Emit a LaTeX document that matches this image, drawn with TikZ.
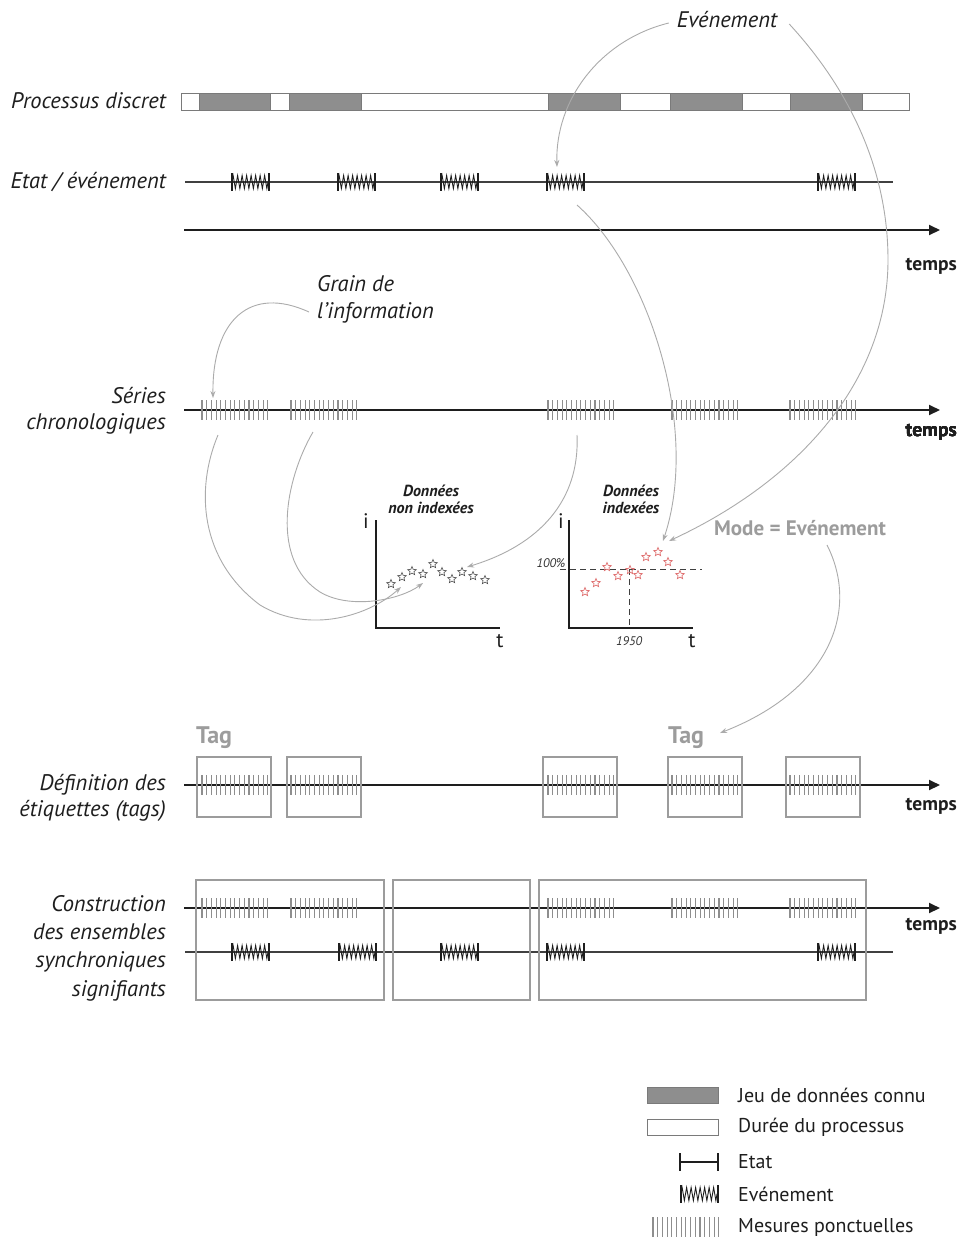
\documentclass[tikz,border=0pt]{standalone}
\usepackage{fontspec}
\setmainfont{PT Sans}
\usetikzlibrary{arrows.meta,shapes.geometric,decorations.pathmorphing}

\definecolor{tagc}{HTML}{9C9C9C}
\definecolor{curvec}{HTML}{ABABAB}
\definecolor{barfill}{HTML}{8E8E8E}
\definecolor{barline}{HTML}{7A7A7A}
\definecolor{tickc}{HTML}{8E8E8E}
\definecolor{starred}{HTML}{E07272}
\definecolor{ink}{HTML}{1E1E1E}

% event marker: two end bars with a spring between them
\newcommand\evmark[2]{%
  \draw[ink,line width=1.3pt] (#1,#2-9) -- (#1,#2+9) (#1+37,#2-9) -- (#1+37,#2+9);
  \draw[ink,line width=0.9pt,decorate,decoration={zigzag,segment length=4.5pt,amplitude=6.5pt}]
    (#1,#2) -- (#1+37,#2);}
% cluster of point measurements
\newcommand\measures[2]{%
  \foreach \k in {0,...,14} \draw[tickc,line width=1.1pt] (#1+\k*4.7,#2-10) -- ++(0,20);}

\begin{document}
\begin{tikzpicture}[x=1pt,y=-1pt,
  axis/.style={ink,line width=2pt,-{Triangle[length=11pt,width=10pt]}},
  stateline/.style={black!75,line width=2pt},
  curve/.style={draw=curvec,line width=0.9pt,-{Stealth[length=7pt,width=5pt]}},
  tagbox/.style={draw=tagc,line width=2.6pt},
  rowlabel/.style={font=\fontsize{22.5}{26}\selectfont\itshape,text=ink,align=right,anchor=east,inner sep=0pt},
  tempslbl/.style={font=\fontsize{19.5}{22}\selectfont\bfseries,text=ink,anchor=east,inner sep=0pt},
  graylbl/.style={font=\fontsize{24}{26}\selectfont\bfseries,text=tagc,inner sep=0pt},
  gtitle/.style={font=\fontsize{16}{17}\selectfont\bfseries\itshape,text=ink,align=center,inner sep=0pt},
  gaxis/.style={ink,line width=2pt},
  glbl/.style={font=\fontsize{21}{22}\selectfont,text=ink,inner sep=0pt},
  small/.style={font=\fontsize{12.5}{14}\selectfont\itshape,text=black!80,inner sep=0pt},
  starL/.style={star,star points=5,star point ratio=2.2,draw=black!70,line width=0.6pt,minimum size=9pt,inner sep=0pt},
  starR/.style={star,star points=5,star point ratio=2.2,draw=starred,line width=0.7pt,minimum size=9pt,inner sep=0pt},
  leglbl/.style={font=\fontsize{20}{22}\selectfont,text=ink,anchor=west,inner sep=0pt}]
\useasboundingbox[fill=white] (0,0) rectangle (958,1243);

% ---------- discrete process ----------
\node[rowlabel] (lproc) at (166,101) {Processus discret};
\draw[barline,fill=white,line width=0.6pt] (181,93) rectangle (909,110);
\foreach \a/\b in {199/270,289/361,548/620,670/742,790/862}
  \draw[barline,fill=barfill,line width=0.6pt] (\a,93) rectangle (\b,110);

% ---------- states / events ----------
\node[rowlabel] (letat) at (166,182) {Etat / événement};
\draw[stateline] (185,182) -- (893,182);
\foreach \x in {232,338,441,547,818} \evmark{\x}{182}
\coordinate (ev4top) at (557,167);
\coordinate (ev4bot) at (577,205);

\draw[axis] (184,230) -- (940,230);
\node[tempslbl] (t1) at (957,266) {temps};

% ---------- event annotation ----------
\node[font=\fontsize{22.5}{24}\selectfont\itshape,text=ink,inner sep=0pt] (evt) at (727,20) {Evénement};
\draw[curve] ([xshift=-8pt,yshift=-3pt]evt.west) .. controls (600,40) and (555,100) .. (ev4top);

% ---------- grain ----------
\node[font=\fontsize{22.5}{27}\selectfont\itshape,text=ink,align=left,anchor=west,inner sep=0pt] (grain) at (317,299) {Grain de\\l'information};
\coordinate (grainTip) at (213,398);
\draw[curve] ([xshift=-8pt,yshift=-13pt]grain.west) .. controls (250,285) and (212,320) .. (grainTip);

% ---------- time series ----------
\node[rowlabel] (lseries) at (166,411) {Séries\\chronologiques};
\draw[axis] (184,410) -- (940,410);
\foreach \x in {202,291,548,672,790} \measures{\x}{410}
\node[tempslbl] (t2) at (957,432) {temps};

% ---------- graph: non indexed ----------
\node[gtitle] (g1t) at (431,499) {Données\\non indexées};
\draw[gaxis] (376,520) -- (376,628) -- (500,628);
\node[glbl] (g1i) at (366,521) {i};
\node[glbl] (g1t2) at (500,641) {t};
\foreach \x/\y [count=\n] in {391/584,402/577,412/571,423/574,433/564,442/572,452/579,462/572,473/576,485/580}
  \node[starL] (sl\n) at (\x,\y) {};

% ---------- graph: indexed ----------
\node[gtitle] (g2t) at (631,499) {Données\\indexées};
\draw[black!75,line width=0.8pt,dash pattern=on 6pt off 4pt] (560,569) -- (702,569);
\draw[black!75,line width=0.8pt,dash pattern=on 6pt off 4pt] (629,569) -- (629,628);
\draw[gaxis] (569,520) -- (569,628) -- (693,628);
\node[glbl] (g2i) at (561,521) {i};
\node[glbl] (g2t2) at (692,641) {t};
\node[small] (p100) at (551,563) {100\%};
\node[small] (y1950) at (629,641) {1950};
\foreach \x/\y [count=\n] in {585/592,596/583,607/567,618/576,630/570,638/575,646/557,658/552,668/562,680/575}
  \node[starR] (sr\n) at (\x,\y) {};

% ---------- curves towards the graphs ----------
\draw[curve] (218,435) .. controls (195,490) and (200,560) .. (260,605)
                       .. controls (310,635) and (370,615) .. (401,587);
\draw[curve] (313,432) .. controls (285,480) and (270,560) .. (320,592)
                       .. controls (350,610) and (400,600) .. (423,583);
\draw[curve] (577,435) .. controls (580,500) and (540,545) .. (467,567);
\draw[curve] (ev4bot) .. controls (650,270) and (700,430) .. (663,541);
\draw[curve] ([xshift=12pt,yshift=-4pt]evt.east) .. controls (850,90) and (888,170) .. (888,260)
                       .. controls (888,380) and (800,480) .. (669,541);

% ---------- mode ----------
\node[graylbl,font=\fontsize{21}{22}\selectfont\bfseries] (mode) at (800,528) {Mode = Evénement};
\draw[curve] (827,545) .. controls (860,610) and (830,690) .. (720,733);

% ---------- tags ----------
\node[graylbl,anchor=west] (tag1) at (196,738) {Tag};
\node[graylbl,anchor=west] (tag2) at (668,738) {Tag};
\node[rowlabel] (ltags) at (166,798) {Définition des\\étiquettes (tags)};
\draw[axis] (184,785) -- (940,785);
\foreach \x in {202,291,548,672,790} \measures{\x}{785}
\foreach \a/\b in {197/271,287/361,543/617,668/742,786/860}
  \draw[tagbox] (\a,757) rectangle (\b,817);
\node[tempslbl] (t3) at (957,806) {temps};

% ---------- synchronous sets ----------
\node[rowlabel,font=\fontsize{22.5}{28.3}\selectfont\itshape] (lcons) at (166,948) {Construction\\des ensembles\\synchroniques\\signifiants};
\draw[axis] (184,908) -- (940,908);
\foreach \x in {202,291,548,672,790} \measures{\x}{908}
\draw[stateline] (185,952) -- (893,952);
\foreach \x in {232,339,441,547,818} \evmark{\x}{952}
\foreach \a/\b in {196/384,393/530,539/866}
  \draw[tagbox] (\a,880) rectangle (\b,1000);
\node[tempslbl] (t4) at (957,926) {temps};

% ---------- legend ----------
\draw[barline,fill=barfill,line width=0.6pt] (647,1087) rectangle (718,1103);
\node[leglbl] (lg1) at (738,1095) {Jeu de données connu};
\draw[barline,fill=white,line width=0.6pt] (647,1119) rectangle (718,1135);
\node[leglbl] (lg2) at (738,1127) {Durée du processus};
\draw[ink,line width=1.3pt] (680,1153) -- (680,1171) (718,1153) -- (718,1171);
\draw[ink,line width=1.3pt] (680,1162) -- (718,1162);
\node[leglbl] (lg3) at (738,1162) {Etat};
\evmark{681}{1194}
\node[leglbl] (lg4) at (738,1194) {Evénement};
\measures{653}{1227}
\node[leglbl] (lg5) at (738,1227) {Mesures ponctuelles};
\end{tikzpicture}
\end{document}
